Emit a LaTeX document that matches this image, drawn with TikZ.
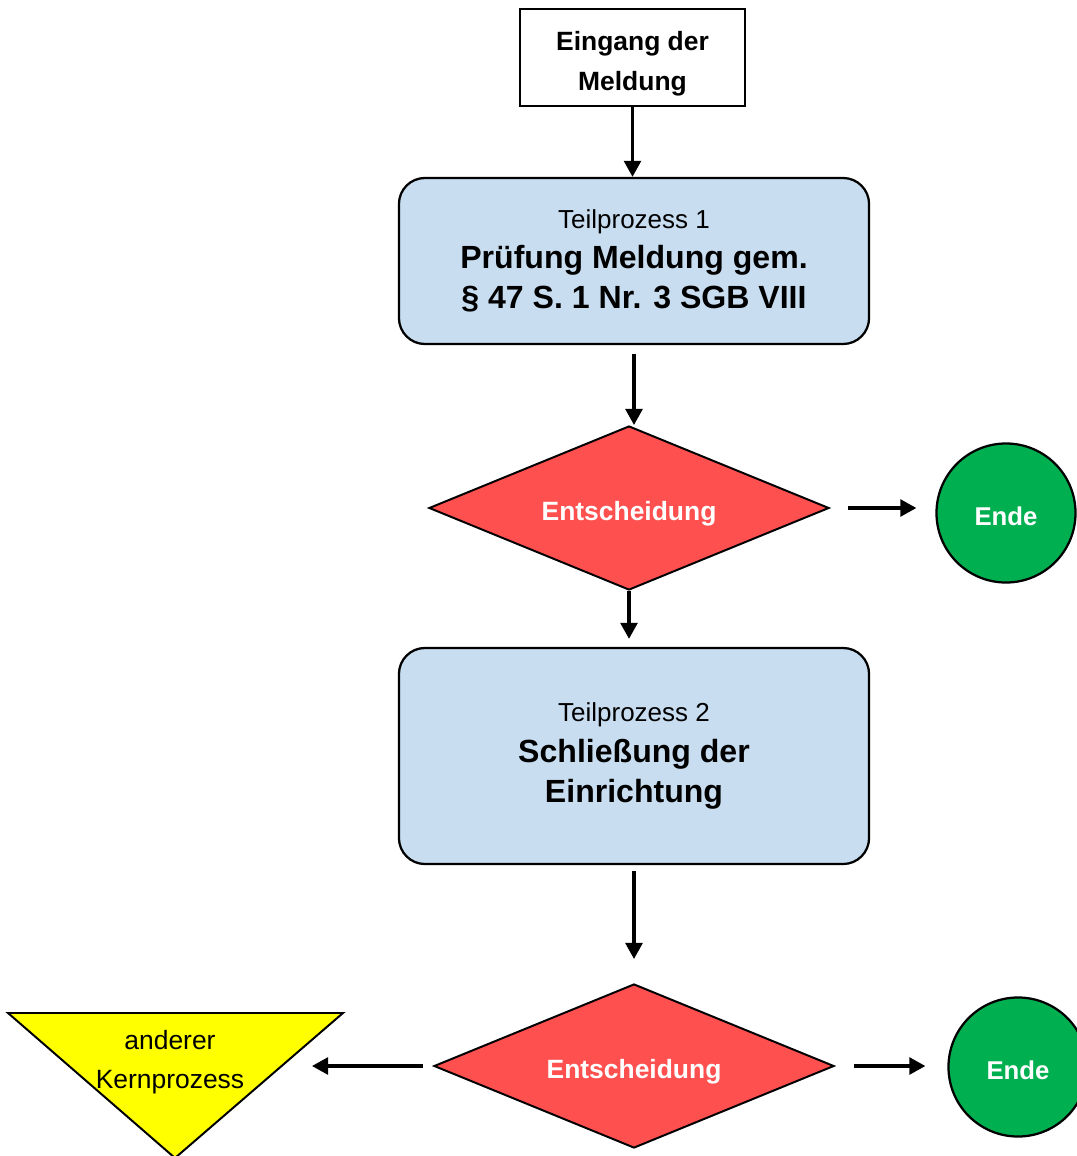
\documentclass[tikz,border=0pt]{standalone}
\usepackage{fontspec}
\setmainfont{Liberation Sans}
\usetikzlibrary{arrows.meta, shapes.geometric, positioning, calc}
\definecolor{ProcBlue}{RGB}{200,221,240}
\definecolor{DecideRed}{RGB}{255,80,80}
\definecolor{EndGreen}{RGB}{0,176,80}
\definecolor{OtherYellow}{RGB}{255,255,0}

\begin{document}
\begin{tikzpicture}[x=0.025cm, y=-0.025cm,
        startnode/.style={draw=black, line width=1.4pt, fill=white, inner sep=0pt,
                          minimum width=5.625cm, minimum height=2.425cm, align=center,
                          font=\fontsize{18.8}{28.5}\selectfont\bfseries},
        procnode/.style={draw=black, line width=1.6pt, fill=ProcBlue, rounded corners=0.65cm,
                         inner sep=0pt, minimum width=11.75cm, align=center,
                         font=\fontsize{22.8}{28.5}\selectfont\bfseries},
        decnode/.style={diamond, draw=black, line width=1.4pt, fill=DecideRed, aspect=2.44,
                        inner sep=0pt, minimum width=10cm, minimum height=4.1cm, text=white,
                        text height=18.2pt, text depth=0pt,
                        font=\fontsize{18.8}{22}\selectfont\bfseries},
        endnode/.style={circle, draw=black, line width=1.6pt, fill=EndGreen, text=white,
                        minimum size=3.475cm, inner sep=0pt, text height=17.5pt, text depth=0pt,
                        font=\fontsize{18.3}{22}\selectfont\bfseries},
        kernnode/.style={align=center, inner sep=0pt, font=\fontsize{18.8}{27.7}\selectfont},
        kernshape/.style={draw=black, line width=1.4pt, fill=OtherYellow},
        arr/.style={draw=black, line width=2.3pt, -{Triangle[length=0.4cm,width=0.42cm]}}
      ]
        \useasboundingbox (0,0) rectangle (1077,1156);
        \node[startnode] (eing) at (632.5,57.5) {\rule{0pt}{22pt}Eingang der\\Meldung};
        \node[procnode, minimum height=4.15cm] (tp1) at (634,261)
          {{\mdseries\fontsize{18.5}{28}\selectfont Teilprozess 1}\\Prüfung Meldung gem.\\§ 47 S. 1 Nr. 3 SGB VIII};
        \node[decnode] (ent1) at (629,508) {Entscheidung};
        \node[endnode] (ende1) at (1006,513) {Ende};
        \node[procnode, minimum height=5.4cm] (tp2) at (634,756)
          {{\mdseries\fontsize{18.5}{28}\selectfont Teilprozess 2}\\Schließung der\\Einrichtung};
        \node[decnode] (ent2) at (634,1066) {Entscheidung};
        \node[endnode] (ende2) at (1018,1067) {Ende};
        % anderer Kernprozess
        \coordinate (kl) at (8,1013);
        \coordinate (kr) at (343,1013);
        \coordinate (kb) at (175,1158);
        \coordinate (kside) at (280,1066);
        \draw[kernshape] (kl) -- (kr) -- (kb) -- cycle;
        \node[kernnode] (kern) at (170,1062) {anderer\\Kernprozess};
        \draw[arr] (eing.south) -- (eing.south |- tp1.north);
        \draw[arr, shorten <=0.225cm] (tp1.south) -- (tp1.south |- ent1.north);
        \draw[arr, shorten >=0.2cm] (ent1.south) -- (ent1.south |- tp2.north);
        \draw[arr, shorten <=0.15cm, shorten >=0.6cm] (tp2.south) -- (tp2.south |- ent2.north);
        \draw[arr, shorten <=0.45cm, shorten >=0.475cm] (ent1.east) -- (ent1.east -| ende1.west);
        \draw[arr, shorten <=0.475cm, shorten >=0.55cm] (ent2.east) -- (ent2.east -| ende2.west);
        \draw[arr, shorten <=0.25cm, shorten >=0.8cm] (ent2.west) -- (kside);
      \end{tikzpicture}
\end{document}
